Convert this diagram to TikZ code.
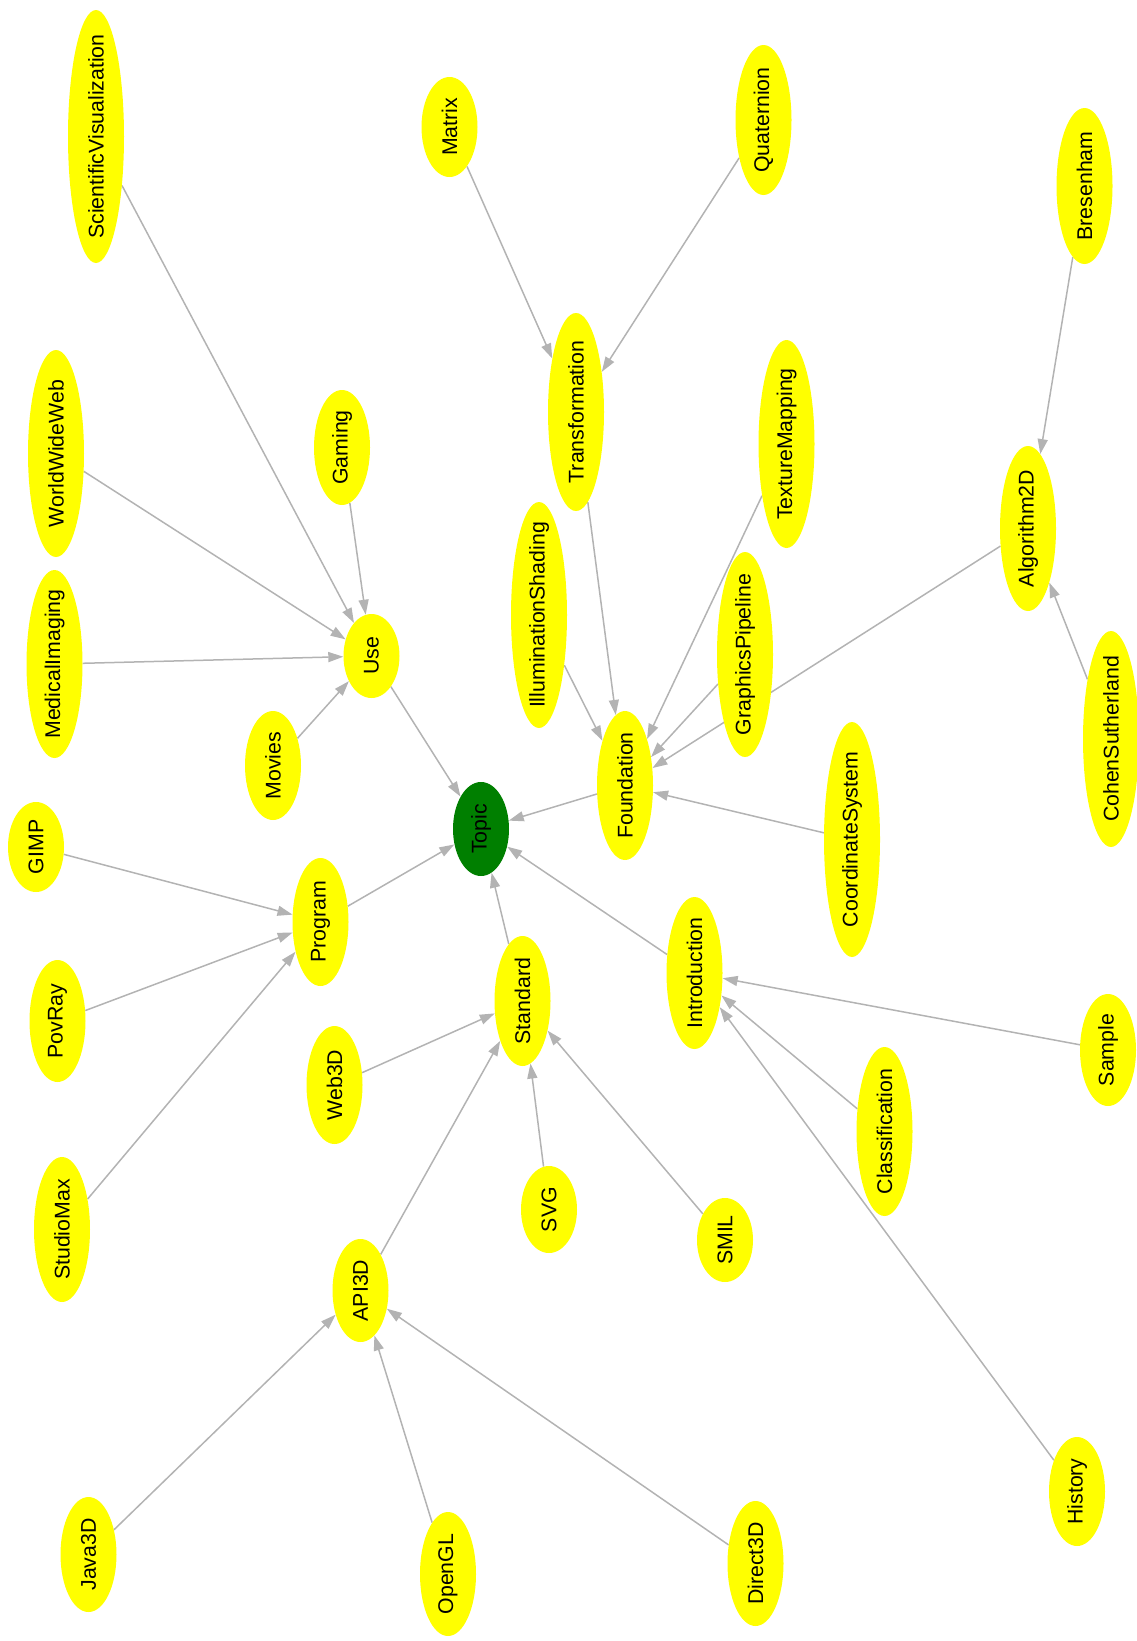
\documentclass[tikz,border=0pt]{standalone}
\usepackage{fontspec}
\setmainfont{Liberation Sans}
\usetikzlibrary{arrows.meta,backgrounds,shapes.geometric}
\definecolor{linkgray}{HTML}{B3B3B3}
\definecolor{topicgreen}{HTML}{007F00}
\definecolor{nodeyellow}{RGB}{255,255,0}

\begin{document}
\begin{tikzpicture}[x=1pt, y=-1pt,
  topicnode/.style={ellipse, fill=nodeyellow, inner sep=0pt, minimum height=56pt,
    rotate=90, font=\fontsize{21.3}{25}\selectfont},
  link/.style={draw=linkgray, line width=1.5pt, -{Triangle[length=15pt,width=10pt]}}]
\useasboundingbox (0,0) rectangle (1136,1641);
% root
\node[topicnode, fill=topicgreen, minimum width=94pt] (topic) at (481,829) {\makebox[0pt]{Topic}};
% subtopics
\foreach \nm/\x/\y/\l/\txt in {
  use/371.5/656/84/Use, found/625/785.5/149/Foundation,
  program/320.5/922/128/Program, standard/522.5/1001/130/Standard,
  intro/694.5/973/152/Introduction, transf/576/412/198/Transformation,
  algo/1028/528.5/165/Algorithm2D, api3d/360.5/1290.5/103/API3D,
  sv/96/136.5/253/ScientificVisualization, www/56/453.5/207/WorldWideWeb,
  gaming/342/447.5/115/Gaming, medimg/54.5/664/188/MedicalImaging,
  movies/273/765.5/109/Movies, matrix/449.5/127/100/Matrix,
  quat/763.5/120/150/Quaternion, bres/1084.5/186/156/Bresenham,
  texmap/786.5/444/208/TextureMapping, illum/539/615/226/IlluminationShading,
  gpipe/745/654.5/205/GraphicsPipeline, cohen/1111/739/216/CohenSutherland,
  coord/852/839.5/235/CoordinateSystem, gimp/36/847/90/GIMP,
  povray/57.5/1021/122/PovRay, sample/1108/1050/112/Sample,
  web3d/334.5/1085/118/Web3D, classif/884.5/1131.5/169/Classification,
  studiomax/62/1229.5/145/StudioMax, svg/549/1209.5/87/SVG,
  smil/725/1240/84/SMIL, history/1077/1491.5/109/History,
  java3d/88.5/1554.5/115/Java3D, opengl/448/1574/124/OpenGL,
  direct3d/755.5/1563.5/125/Direct3D} {
  \node[topicnode, minimum width=\l pt] (\nm) at (\x,\y) {\makebox[0pt]{\txt}};
}
% links behind the ellipses
\begin{pgfonlayer}{background}
\foreach \a/\b in {use/topic, found/topic, program/topic, standard/topic, intro/topic,
  sv/use, www/use, gaming/use, medimg/use, movies/use,
  matrix/transf, quat/transf, transf/found, texmap/found, illum/found,
  gpipe/found, algo/found, coord/found, bres/algo, cohen/algo,
  gimp/program, povray/program, studiomax/program,
  web3d/standard, api3d/standard, svg/standard, smil/standard,
  sample/intro, classif/intro, history/intro,
  java3d/api3d, opengl/api3d, direct3d/api3d}
  \draw[link] (\a) -- (\b);
\end{pgfonlayer}
\end{tikzpicture}
\end{document}
